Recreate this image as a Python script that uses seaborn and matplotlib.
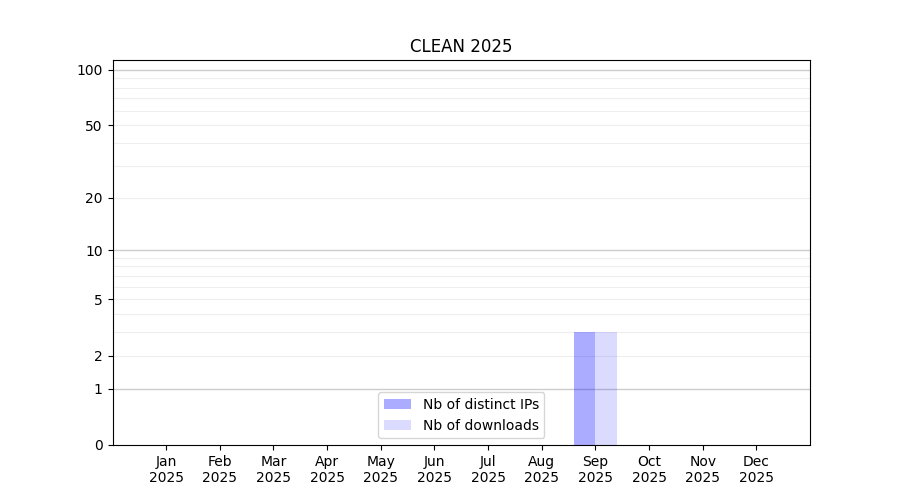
import numpy as np
import pandas as pd
import matplotlib
matplotlib.use("Agg")
import matplotlib.pyplot as plt
import seaborn as sns

months = ["Jan\n2025", "Feb\n2025", "Mar\n2025", "Apr\n2025", "May\n2025", "Jun\n2025",
          "Jul\n2025", "Aug\n2025", "Sep\n2025", "Oct\n2025", "Nov\n2025", "Dec\n2025"]
distinct_ips = [0, 0, 0, 0, 0, 0, 0, 0, 3, 0, 0, 0]
downloads = [0, 0, 0, 0, 0, 0, 0, 0, 3, 0, 0, 0]
series_names = ["Nb of distinct IPs", "Nb of downloads"]
series_colors = [(0, 0, 1, 0.33), (0, 0, 1, 0.14)]
y_ticks = [0, 1, 2, 5, 10, 20, 50, 100]
major_grid = [1, 10, 100]
minor_grid = [2, 3, 4, 5, 6, 7, 8, 9, 20, 30, 40, 50, 60, 70, 80, 90]

df = pd.DataFrame({
    "month": months * 2,
    "value": distinct_ips + downloads,
    "series": [series_names[0]] * len(months) + [series_names[1]] * len(months),
})

fig, ax = plt.subplots(figsize=(9, 5), dpi=100)

sns.barplot(data=df, x="month", y="value", hue="series", order=months,
            hue_order=series_names, palette=["blue", "blue"], linewidth=0,
            errorbar=None, ax=ax, zorder=2)

# translucent fills like the original
for cont, col in zip(ax.containers, series_colors):
    for bar in cont:
        bar.set_facecolor(col)
        bar.set_edgecolor("none")

ax.set_yscale("function", functions=(lambda v: np.log10(np.clip(v, 0, None) + 1),
                                     lambda v: 10 ** v - 1))
ax.set_ylim(0, 113)
ax.set_yticks(y_ticks)
ax.set_yticklabels([str(t) for t in y_ticks])
ax.minorticks_off()

for g in minor_grid:
    ax.axhline(g, color="#eeeeee", linewidth=0.8, zorder=0)
for g in major_grid:
    ax.axhline(g, color="#cccccc", linewidth=1.0, zorder=0)

ax.set_xlim(-1, 12)
ax.set_xlabel("")
ax.set_ylabel("")
ax.set_title("CLEAN 2025")

handles, labels = ax.get_legend_handles_labels()
for h, col in zip(handles, series_colors):
    h.set_facecolor(col)
    h.set_edgecolor("none")
ax.legend(handles, labels, loc="lower center")

plt.savefig("out.png", dpi=100)
